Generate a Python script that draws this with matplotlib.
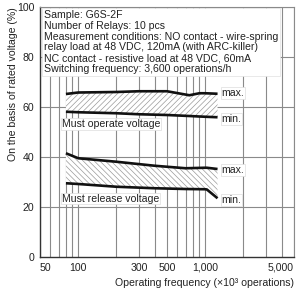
import matplotlib
matplotlib.use("Agg")
import matplotlib.pyplot as plt
from matplotlib.ticker import FixedLocator, NullFormatter

plt.rcParams["font.family"] = ["Liberation Sans", "DejaVu Sans"]
plt.rcParams["hatch.linewidth"] = 0.5

# operating frequency (x10^3 operations)
freq = [80, 100, 200, 300, 500, 750, 900, 1000, 1250]
operate_max = [65.2, 65.8, 66.0, 66.3, 66.3, 64.7, 65.5, 65.5, 65.3]
operate_min = [58.1, 57.9, 57.5, 57.1, 56.8, 56.4, 56.2, 56.1, 55.9]

freq_rel = [80, 100, 200, 400, 700, 1000, 1030, 1250]
release_max = [41.5, 39.5, 38.1, 36.5, 35.5, 35.7, 35.7, 35.2]
release_min = [29.5, 29.2, 28.1, 27.5, 27.2, 27.1, 27.0, 23.5]

xticks = [50, 100, 300, 500, 1000, 5000]
xtick_labels = ["50", "100", "300", "500", "1,000", "5,000"]
yticks = [0, 20, 40, 60, 80, 100]

conditions = ("Sample: G6S-2F\n"
              "Number of Relays: 10 pcs\n"
              "Measurement conditions: NO contact - wire-spring\n"
              "relay load at 48 VDC, 120mA (with ARC-killer)\n"
              "NC contact - resistive load at 48 VDC, 60mA\n"
              "Switching frequency: 3,600 operations/h")

FS = 7.6
TXT = "#222222"

fig = plt.figure(figsize=(2.97, 3.0), dpi=100)
ax = fig.add_axes([40 / 297, 43 / 300, 254 / 297, 250 / 300])
ax.set_xscale("log")
ax.set_xlim(50, 5000)
ax.set_ylim(0, 100)

grid_x = [v * m for m in (10, 100, 1000) for v in range(1, 10) if 50 <= v * m <= 5000]
for gx in grid_x:
    ax.axvline(gx, color="#8a8a8a", lw=0.8, zorder=0)
for gy in yticks[1:]:
    ax.axhline(gy, color="#8a8a8a", lw=0.8, zorder=0)

ax.fill_between(freq, operate_min, operate_max, facecolor="white",
                edgecolor="#9a9a9a", hatch="//////", lw=0, zorder=1)
ax.fill_between(freq_rel, release_min, release_max, facecolor="white",
                edgecolor="#9a9a9a", hatch="\\\\\\\\\\\\", lw=0, zorder=1)
for xs, ys in ((freq, operate_max), (freq, operate_min),
               (freq_rel, release_max), (freq_rel, release_min)):
    ax.plot(xs, ys, color="#111111", lw=1.9, solid_capstyle="butt", zorder=2)

box = dict(facecolor="white", edgecolor="#dddddd", lw=0.5, pad=0.6)
for y, s in ((65.6, "max."), (55.2, "min."), (34.8, "max."), (22.8, "min.")):
    ax.text(1340, y, s, fontsize=FS, va="center", ha="left", color=TXT,
            bbox=box, zorder=3)
ax.text(74, 53.2, "Must operate voltage", fontsize=FS, va="center", ha="left",
        color=TXT, bbox=box, zorder=3)
ax.text(74, 23.4, "Must release voltage", fontsize=FS, va="center", ha="left",
        color=TXT, bbox=box, zorder=3)

ax.text(0.016, 0.988, conditions, transform=ax.transAxes, fontsize=FS,
        va="top", ha="left", color=TXT, linespacing=1.1,
        bbox=dict(facecolor="white", edgecolor="#e0e0e0", lw=0.5, pad=1.5),
        zorder=4)

ax.xaxis.set_major_locator(FixedLocator(xticks))
ax.xaxis.set_minor_formatter(NullFormatter())
ax.xaxis.set_minor_locator(FixedLocator([]))
ax.set_xticklabels(xtick_labels)
ax.set_yticks(yticks)
ax.tick_params(length=0, labelsize=FS, labelcolor=TXT, pad=4)
xlabels = ax.get_xticklabels()
xlabels[0].set_horizontalalignment("left")
xlabels[-1].set_horizontalalignment("right")

for side in ("left", "bottom"):
    ax.spines[side].set_color("#333333")
    ax.spines[side].set_linewidth(1.0)
for side in ("top", "right"):
    ax.spines[side].set_color("#8a8a8a")
    ax.spines[side].set_linewidth(0.8)

ax.set_ylabel("On the basis of rated voltage (%)", fontsize=FS, color=TXT,
              loc="top", labelpad=-1)
ax.set_xlabel("Operating frequency (\u00d710\u00b3 operations)", fontsize=FS,
              color=TXT, loc="right", labelpad=4)

fig.savefig("out.png", dpi=100)
